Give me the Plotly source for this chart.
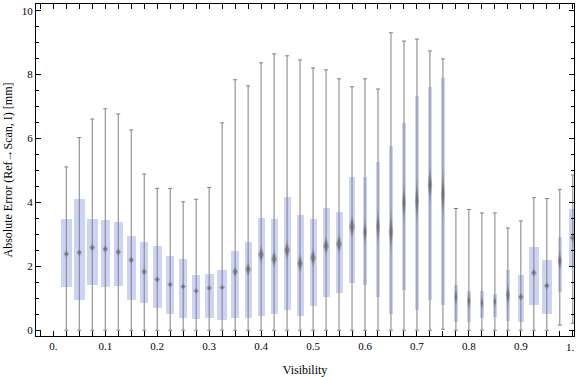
import plotly.graph_objects as go

# ---- data ----
visibility = [0.025, 0.05, 0.075, 0.1, 0.125, 0.15, 0.175, 0.2, 0.225, 0.25,
              0.275, 0.3, 0.325, 0.35, 0.375, 0.4, 0.425, 0.45, 0.475, 0.5,
              0.525, 0.55, 0.575, 0.6, 0.625, 0.65, 0.675, 0.7, 0.725, 0.75,
              0.775, 0.8, 0.825, 0.85, 0.875, 0.9, 0.925, 0.95, 0.975, 1.0]
upper = [5.11, 6.03, 6.61, 6.93, 6.77, 6.27, 4.89, 4.44, 4.44, 4.02,
         4.10, 4.47, 6.49, 7.84, 7.65, 8.37, 8.65, 8.59, 8.46, 8.21,
         8.15, 7.87, 7.62, 7.87, 7.55, 9.31, 9.05, 9.11, 8.74, 8.49,
         3.81, 3.78, 3.67, 3.67, 3.20, 3.42, 4.15, 4.12, 4.41, 4.86]
q3 = [3.48, 4.11, 3.48, 3.45, 3.39, 2.95, 2.76, 2.63, 2.32, 2.24,
      1.72, 1.76, 1.89, 2.48, 2.76, 3.51, 3.48, 4.17, 3.61, 3.48,
      3.82, 3.70, 4.79, 4.79, 5.26, 5.77, 6.49, 7.34, 7.62, 7.90,
      1.41, 1.23, 1.23, 1.14, 1.88, 1.72, 2.60, 2.19, 2.91, 3.81]
median = [2.39, 2.43, 2.59, 2.54, 2.45, 2.20, 1.83, 1.59, 1.43, 1.37,
          1.23, 1.32, 1.34, 1.83, 1.91, 2.37, 2.23, 2.51, 2.09, 2.27,
          2.64, 2.70, 3.24, 3.07, 3.24, 3.08, 3.99, 4.05, 4.55, 4.26,
          1.04, 0.92, 0.86, 0.89, 1.10, 1.04, 1.80, 1.39, 2.17, 2.89]
q1 = [1.36, 0.94, 1.42, 1.36, 1.39, 0.95, 0.86, 0.70, 0.51, 0.39,
      0.35, 0.39, 0.32, 0.39, 0.39, 0.45, 0.51, 0.64, 0.45, 0.76,
      1.04, 1.17, 1.48, 1.42, 1.04, 0.51, 1.26, 0.64, 0.95, 0.79,
      0.26, 0.26, 0.39, 0.43, 0.29, 0.26, 0.79, 0.51, 1.20, 2.00]
lower = [0, 0, 0, 0, 0, 0, 0, 0, 0, 0,
         0, 0, 0, 0, 0, 0, 0, 0, 0, 0,
         0, 0, 0, 0, 0, 0, 0, 0, 0, 0.03,
         0, 0, 0, 0, 0, 0, 0, 0, 0.16, 0.22]
# relative box width (fraction of the spacing between categories)
rel_width = [0.82, 0.87, 0.85, 0.72, 0.67, 0.67, 0.64, 0.69, 0.64, 0.64,
             0.62, 0.69, 0.77, 0.62, 0.54, 0.54, 0.54, 0.54, 0.54, 0.54,
             0.54, 0.54, 0.46, 0.31, 0.31, 0.35, 0.31, 0.31, 0.36, 0.31,
             0.25, 0.28, 0.25, 0.25, 0.33, 0.46, 0.72, 0.77, 0.33, 0.62]
# half-height of the median confidence diamond
notch = [0.11, 0.12, 0.13, 0.13, 0.13, 0.13, 0.13, 0.11, 0.10, 0.10,
         0.10, 0.10, 0.09, 0.19, 0.23, 0.30, 0.29, 0.31, 0.32, 0.31,
         0.31, 0.34, 0.40, 0.44, 0.57, 0.68, 0.68, 0.73, 0.60, 0.84,
         0.34, 0.30, 0.25, 0.21, 0.39, 0.14, 0.14, 0.13, 0.34, 0.15]

x_ticks = [0, 0.1, 0.2, 0.3, 0.4, 0.5, 0.6, 0.7, 0.8, 0.9, 1.0]
x_ticktext = ["0.", "0.1", "0.2", "0.3", "0.4", "0.5", "0.6", "0.7", "0.8", "0.9", "1."]
y_ticks = [0, 2, 4, 6, 8, 10]

# ---- geometry helpers ----
SPACING = 0.025
PX = 1.0 / 520.0  # x units per pixel (approx)
widths = [w * SPACING for w in rel_width]
cap = 2.0 * PX

BOX_COLOR = "rgb(204,211,245)"
WHISKER = "rgb(128,128,128)"
FONT = "Liberation Serif"

wx, wy = [], []
cx, cy = [], []
for x, lo, hi in zip(visibility, lower, upper):
    wx += [x, x, None]
    wy += [lo, hi, None]
    cx += [x - cap, x + cap, None, x - cap, x + cap, None]
    cy += [lo, lo, None, hi, hi, None]


def diamonds(scale):
    dx, dy = [], []
    for x, m, n, w in zip(visibility, median, notch, widths):
        hw = min(3.0 * PX, w / 2.0) * scale
        hh = n * scale
        dx += [x - hw, x, x + hw, x, x - hw, None]
        dy += [m, m + hh, m, m - hh, m, None]
    return dx, dy


fig = go.Figure()
fig.add_trace(go.Scatter(x=wx, y=wy, mode="lines",
                         line=dict(color=WHISKER, width=1), hoverinfo="skip"))
fig.add_trace(go.Scatter(x=cx, y=cy, mode="lines",
                         line=dict(color=WHISKER, width=1), hoverinfo="skip"))
fig.add_trace(go.Bar(x=visibility, y=[a - b for a, b in zip(q3, q1)], base=q1,
                     width=widths, marker=dict(color=BOX_COLOR, line=dict(width=0))))
ox, oy = diamonds(1.0)
fig.add_trace(go.Scatter(x=ox, y=oy, mode="lines", fill="toself",
                         fillcolor="rgba(125,125,125,0.45)", line=dict(width=0),
                         hoverinfo="skip"))
ix, iy = diamonds(0.6)
fig.add_trace(go.Scatter(x=ix, y=iy, mode="lines", fill="toself",
                         fillcolor="rgba(105,105,105,0.8)", line=dict(width=0),
                         hoverinfo="skip"))

axis_common = dict(showline=True, linecolor="black", linewidth=1, mirror="ticks",
                   ticks="inside", tickcolor="black", tickwidth=1,
                   showgrid=False, zeroline=False,
                   tickfont=dict(family=FONT, size=11, color="black"))

# the last label would run past the page edge; it is drawn as an annotation instead
fig.update_xaxes(range=[-0.0333, 1.0023], tickvals=x_ticks,
                 ticktext=x_ticktext[:-1] + [""],
                 ticklen=5,
                 minor=dict(dtick=SPACING, tick0=0, ticks="inside", ticklen=5,
                            tickcolor="black", showgrid=False),
                 title=dict(text="Visibility", font=dict(family=FONT, size=12, color="black"),
                            standoff=14),
                 **axis_common)
fig.add_annotation(x=x_ticks[-1], xref="x", y=0, yref="paper", text=x_ticktext[-1],
                   showarrow=False, xanchor="right", yanchor="middle",
                   xshift=3, yshift=-11, borderpad=0,
                   font=dict(family=FONT, size=11, color="black"))
fig.update_yaxes(range=[-0.18, 10.21], tickvals=y_ticks, ticklen=5,
                 minor=dict(dtick=0.5, tick0=0, ticks="inside", ticklen=3,
                            tickcolor="black", showgrid=False),
                 title=dict(text="Absolute Error (Ref\u2192Scan, I) [mm]",
                            font=dict(family=FONT, size=12, color="black"), standoff=6),
                 **axis_common)

fig.update_layout(width=576, height=377, showlegend=False, bargap=0,
                  margin=dict(l=36, r=2, t=4, b=41, autoexpand=False),
                  plot_bgcolor="white", paper_bgcolor="white")

fig.write_html("out.html", config={"displayModeBar": False},
               post_script="document.body.style.margin='0';")
